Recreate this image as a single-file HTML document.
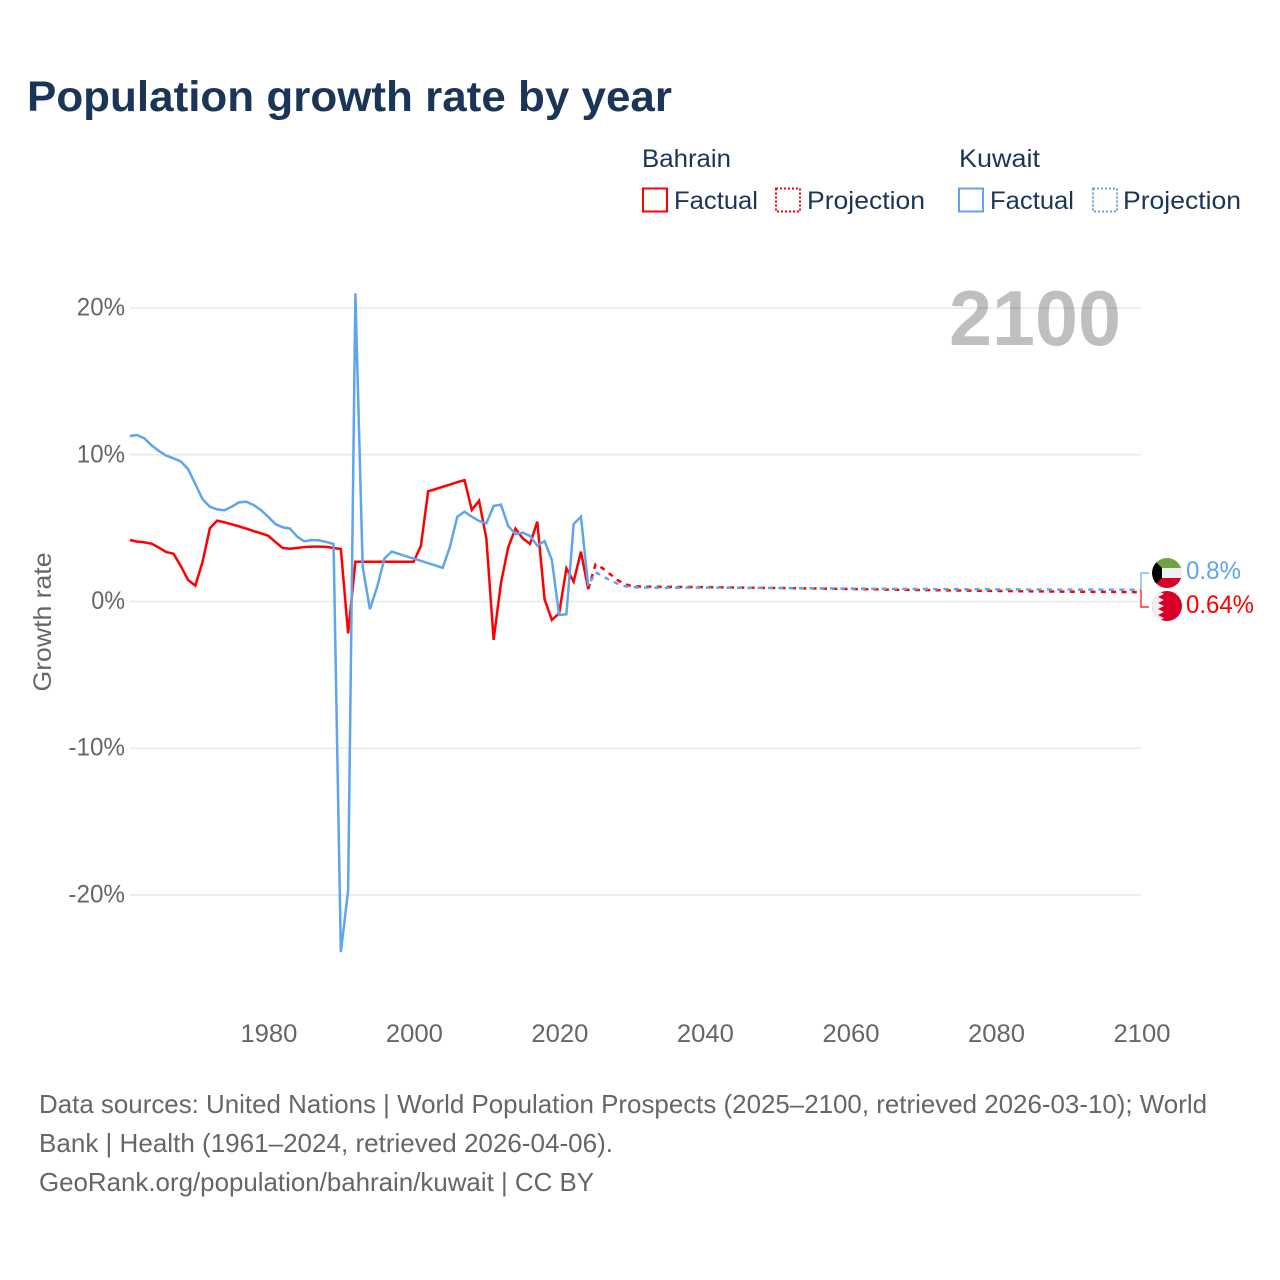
<!DOCTYPE html>
<html lang="en">
<head>
<meta charset="utf-8">
<title>Population growth rate by year</title>
<style>
html,body{margin:0;padding:0;background:#fff;width:1280px;height:1280px;overflow:hidden}
svg{display:block;font-family:"Liberation Sans",sans-serif}
</style>
</head>
<body>
<svg id="chart" width="1280" height="1280" viewBox="0 0 1280 1280" xmlns="http://www.w3.org/2000/svg">
  <rect width="1280" height="1280" fill="#fff"/>
  <text x="27" y="111" font-size="43" font-weight="700" fill="#1a3557" textLength="645" lengthAdjust="spacingAndGlyphs">Population growth rate by year</text>

  <g font-size="25" fill="#1a3557">
    <text x="642" y="167" textLength="89" lengthAdjust="spacingAndGlyphs">Bahrain</text>
    <rect x="643" y="188.500" width="24" height="23" fill="none" stroke="#ff0000" stroke-width="2"/>
    <text x="674" y="209" textLength="84" lengthAdjust="spacingAndGlyphs">Factual</text>
    <rect x="776" y="188.500" width="24" height="23" fill="none" stroke="#ff0000" stroke-width="2" stroke-dasharray="2 2"/>
    <text x="807" y="209" textLength="118" lengthAdjust="spacingAndGlyphs">Projection</text>
    <text x="959" y="167" textLength="81" lengthAdjust="spacingAndGlyphs">Kuwait</text>
    <rect x="959" y="188.500" width="24" height="23" fill="none" stroke="#5ea5ec" stroke-width="2"/>
    <text x="990" y="209" textLength="84" lengthAdjust="spacingAndGlyphs">Factual</text>
    <rect x="1093" y="188.500" width="24" height="23" fill="none" stroke="#5ea5ec" stroke-width="2" stroke-dasharray="2 2"/>
    <text x="1123" y="209" textLength="118" lengthAdjust="spacingAndGlyphs">Projection</text>
  </g>

  <g id="grid"></g>
  <g id="yticks"></g>
  <g id="xticks"></g>

  <text transform="translate(51 622) rotate(-90)" text-anchor="middle" font-size="25" fill="#666" textLength="139" lengthAdjust="spacingAndGlyphs">Growth rate</text>
  <text x="949" y="345" font-size="78" font-weight="700" fill="#000" fill-opacity="0.25" textLength="172" lengthAdjust="spacingAndGlyphs">2100</text>

  <g id="series"></g>

  <g>
    <path d="M1141 589V573H1149" fill="none" stroke="#5ea5ec" stroke-width="1.200"/>
    <path d="M1141 590V607H1149" fill="none" stroke="#ff0000" stroke-width="1.200"/>
    <defs>
      <clipPath id="clip-kw"><circle cx="1167" cy="573" r="15"/></clipPath>
      <clipPath id="clip-bh"><circle cx="1167" cy="606" r="15"/></clipPath>
    </defs>
    <g clip-path="url(#clip-kw)">
      <rect x="1152" y="558" width="30" height="10" fill="#6da544"/>
      <rect x="1152" y="568" width="30" height="10" fill="#f0f0f0"/>
      <rect x="1152" y="578" width="30" height="10" fill="#d80027"/>
      <path d="M1152 558L1162 568V578L1152 588Z" fill="#000"/>
    </g>
    <g clip-path="url(#clip-bh)">
      <rect x="1152" y="591" width="30" height="30" fill="#d80027"/>
      <path d="M1152 591H1159L1164 594L1158 597L1164 600L1158 603L1164 606L1158 609L1164 612L1158 615L1164 618L1159 621H1152Z" fill="#f0f0f0"/>
    </g>
    <text x="1186" y="579" font-size="25" fill="#5ea5ec" textLength="55" lengthAdjust="spacingAndGlyphs">0.8%</text>
    <text x="1186" y="613" font-size="25" fill="#ff0000" textLength="68" lengthAdjust="spacingAndGlyphs">0.64%</text>
  </g>

  <g font-size="26" fill="#666">
    <text x="39" y="1113" textLength="1168" lengthAdjust="spacingAndGlyphs">Data sources: United Nations | World Population Prospects (2025–2100, retrieved 2026-03-10); World</text>
    <text x="39" y="1152" textLength="574" lengthAdjust="spacingAndGlyphs">Bank | Health (1961–2024, retrieved 2026-04-06).</text>
    <text x="39" y="1191" textLength="555" lengthAdjust="spacingAndGlyphs">GeoRank.org/population/bahrain/kuwait | CC BY</text>
  </g>
</svg>

<script>
const factualYears = [1961,1962,1963,1964,1965,1966,1967,1968,1969,1970,1971,1972,1973,1974,1975,1976,1977,1978,1979,1980,1981,1982,1983,1984,1985,1986,1987,1988,1989,1990,1991,1992,1993,1994,1995,1996,1997,1998,1999,2000,2001,2002,2003,2004,2005,2006,2007,2008,2009,2010,2011,2012,2013,2014,2015,2016,2017,2018,2019,2020,2021,2022,2023,2024];
const bahrainFactual = [4.19,4.08,4.03,3.94,3.67,3.37,3.26,2.42,1.47,1.08,2.71,4.99,5.51,5.40,5.26,5.12,4.97,4.80,4.65,4.49,4.06,3.65,3.60,3.65,3.71,3.74,3.74,3.72,3.65,3.58,-2.17,2.71,2.71,2.71,2.71,2.71,2.71,2.71,2.71,2.71,3.78,7.51,7.66,7.82,7.97,8.13,8.28,6.24,6.87,4.30,-2.62,1.24,3.69,4.97,4.30,3.92,5.44,0.15,-1.26,-0.81,2.26,1.35,3.40,0.83];
const kuwaitFactual = [11.28,11.35,11.12,10.64,10.26,9.94,9.76,9.55,9.03,8.01,6.97,6.46,6.28,6.22,6.46,6.76,6.80,6.58,6.24,5.78,5.28,5.06,4.97,4.42,4.10,4.19,4.17,4.06,3.92,-23.9,-19.7,21.0,2.37,-0.53,1.01,2.94,3.40,3.24,3.08,2.93,2.77,2.61,2.46,2.30,3.74,5.78,6.12,5.78,5.49,5.33,6.51,6.60,5.15,4.60,4.69,4.47,3.80,4.12,2.83,-0.92,-0.87,5.28,5.78,1.06];
const projectionYears = [2024,2025,2026,2027,2028,2029,2030,2031,2035,2040,2050,2060,2070,2080,2090,2100];
const bahrainProjection = [0.83,2.53,2.26,1.87,1.47,1.19,1.05,1.02,1.00,0.98,0.92,0.85,0.78,0.72,0.67,0.64];
const kuwaitProjection = [1.06,2.00,1.72,1.45,1.22,1.05,0.98,0.95,0.93,0.95,0.92,0.88,0.85,0.83,0.81,0.80];
const yTickValues = [20,10,0,-10,-20];
const yTickLabels = ["20%","10%","0%","-10%","-20%"];
const xTickValues = [1980,2000,2020,2040,2060,2080,2100];
const xTickLabels = ["1980","2000","2020","2040","2060","2080","2100"];

const NS = "http://www.w3.org/2000/svg";
const DASH_ON = 5;
const DASH_OFF = 5.33;
function xScale(year){ return 1141.2 - (2100 - year) * 7.276; }
function yScale(v){ return 601.5 - v * 14.67; }
function make(tag, attrs){
  const el = document.createElementNS(NS, tag);
  for (const k in attrs) el.setAttribute(k, attrs[k]);
  return el;
}
function pathFrom(years, values){
  return values.map(function(v, i){
    return (i ? "L" : "M") + xScale(years[i]).toFixed(2) + " " + yScale(v).toFixed(2);
  }).join("");
}
function alignDash(path, anchorX){
  const total = path.getTotalLength();
  let lo = 0, hi = total;
  for (let i = 0; i < 30; i++){
    const mid = (lo + hi) / 2;
    if (path.getPointAtLength(mid).x < anchorX) lo = mid; else hi = mid;
  }
  const period = DASH_ON + DASH_OFF;
  path.setAttribute("stroke-dashoffset", (-(lo % period)).toFixed(2));
}

const grid = document.getElementById("grid");
const yticks = document.getElementById("yticks");
yTickValues.forEach(function(v, i){
  const line = make("line", {x1:130, x2:1141, y1:yScale(v), y2:yScale(v), stroke:"#e8e8e8", "stroke-width":1.5});
  
  
  grid.appendChild(line);
  const label = yTickLabels[i];
  const t = make("text", {x:125, y:yScale(v)+7.500, "text-anchor":"end", "font-size":25, fill:"#666",
    textLength: label.length*14.4 + (label.charAt(0)==="-" ? -1 : 5), lengthAdjust:"spacingAndGlyphs"});
  
  
  t.textContent = label;
  yticks.appendChild(t);
});

const xticks = document.getElementById("xticks");
xTickValues.forEach(function(v, i){
  const t = make("text", {x:xScale(v)+0.8, y:1042, "text-anchor":"middle", "font-size":25, fill:"#666",
    textLength:57, lengthAdjust:"spacingAndGlyphs"});
  
  
  t.textContent = xTickLabels[i];
  xticks.appendChild(t);
});

const series = document.getElementById("series");

const bf = make("path", {d:pathFrom(factualYears, bahrainFactual), fill:"none", stroke:"#ff0000", "stroke-width":2.5, "stroke-linejoin":"miter"});


series.appendChild(bf);

const bp = make("path", {d:pathFrom(projectionYears, bahrainProjection), fill:"none", stroke:"#ff0000", "stroke-width":2.5, "stroke-dasharray":DASH_ON+" "+DASH_OFF});


series.appendChild(bp);
alignDash(bp, 811.6);

const kf = make("path", {d:pathFrom(factualYears, kuwaitFactual), fill:"none", stroke:"#5ea5ec", "stroke-width":2.5, "stroke-linejoin":"miter"});


series.appendChild(kf);

const kp = make("path", {d:pathFrom(projectionYears, kuwaitProjection), fill:"none", stroke:"#5ea5ec", "stroke-width":2.5, "stroke-dasharray":DASH_ON+" "+DASH_OFF});


series.appendChild(kp);
alignDash(kp, 809.3);
</script>
</body>
</html>
